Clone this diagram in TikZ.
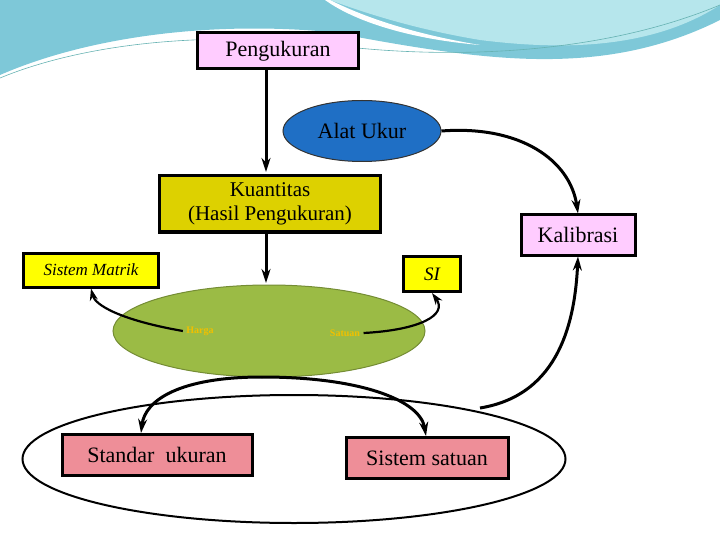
\documentclass[tikz,border=0pt]{standalone}
\usepackage{fontspec}
\setmainfont{Liberation Serif}
\usetikzlibrary{shapes.geometric,arrows.meta}
\definecolor{pinkb}{HTML}{FFCCFF}
\definecolor{yel}{HTML}{FFFF00}
\definecolor{olive}{HTML}{DDD100}
\definecolor{blueE}{HTML}{1F6FC5}
\definecolor{greenE}{HTML}{9BBB45}
\definecolor{redb}{HTML}{EE8E98}
\definecolor{harga}{HTML}{F0C000}
\definecolor{sky}{HTML}{7EC8D8}
\definecolor{skyl}{HTML}{B6E6EC}
\tikzset{
 big/.style={font=\fontsize{22}{24}\selectfont},
 box/.style={draw=black,line width=3pt,inner sep=0pt,big},
 arr/.style={line width=3pt,-{Stealth[length=14pt,width=9pt]}},
}
\begin{document}
\begin{tikzpicture}[x=1pt,y=-1pt]
\useasboundingbox (0,0) rectangle (720,540);
% background waves
\fill[sky] (0,0) -- (720,0) -- (720,20) .. controls (600,80) and (480,60) .. (330,32) .. controls (200,20) and (80,40) .. (0,75) -- cycle;
\fill[skyl] (330,0) -- (720,0) -- (720,5) .. controls (650,50) and (560,50) .. (480,40) .. controls (420,30) and (370,15) .. (330,0) -- cycle;
\fill[white] (330,0) .. controls (370,20) and (420,35) .. (480,45) .. controls (420,40) and (360,25) .. (325,0) -- cycle;
\draw[teal!60,line width=0.6pt] (0,78) .. controls (80,45) and (200,30) .. (330,45) .. controls (450,60) and (600,55) .. (720,5);
% nodes
\node[box,fill=pinkb,minimum width=161pt,minimum height=36pt] (peng) at (278,51) {Pengukuran};
\node[ellipse,draw=black!80,line width=1pt,fill=blueE,minimum width=158pt,minimum height=61pt,inner sep=0pt,big] (alat) at (362,131) {Alat Ukur};
\node[box,fill=olive,minimum width=221pt,minimum height=56pt,align=center,font=\fontsize{21}{24}\selectfont] (kuan) at (270,204) {Kuantitas\\(Hasil Pengukuran)};
\node[box,fill=pinkb,minimum width=114pt,minimum height=40pt] (kal) at (578,235) {Kalibrasi};
\node[box,fill=yel,minimum width=135pt,minimum height=34pt,font=\fontsize{17}{19}\selectfont\itshape] (sm) at (91,270) {Sistem Matrik};
\node[box,fill=yel,minimum width=57pt,minimum height=35pt,font=\fontsize{19}{21}\selectfont\itshape] (si) at (432,274) {SI};
\node[ellipse,draw=greenE!75!black,line width=1pt,fill=greenE,minimum width=312pt,minimum height=92pt,inner sep=0pt] (green) at (269,331) {};
\node[text=harga,big,font=\bfseries] (harga) at (200,331) {Harga};
\node[text=harga,big,font=\bfseries] (sat) at (345,333) {Satuan};
\node[ellipse,draw=black,line width=2pt,minimum width=543pt,minimum height=128pt,inner sep=0pt] (bigE) at (294,459) {};
\node[box,fill=redb,minimum width=190pt,minimum height=41pt] (std) at (157,455) {Standar\ \ ukuran};
\node[box,fill=redb,minimum width=162pt,minimum height=41pt] (sis) at (427,458) {Sistem satuan};
% connectors
\coordinate (gtop) at (266,283);
\coordinate (gbot) at (262,377);
\coordinate (bigr) at (480,408);
\coordinate (kt) at (266,172);
\draw[arr] (peng.south -| kt) -- (kt);
\draw[arr] (kuan.south -| gtop) -- (gtop);
\draw[arr] (alat.east) .. controls (520,125) and (570,160) .. (kal.north);
\draw[arr] (bigr) .. controls (560,395) and (575,320) .. (kal.south);
\draw[line width=2.2pt,-{Stealth[length=12pt,width=8pt]}] (harga.west) .. controls (120,320) and (95,305) .. (sm.south);
\draw[line width=2.2pt,-{Stealth[length=12pt,width=8pt]}] (sat.east) .. controls (420,330) and (448,315) .. (si.south);
\coordinate (st) at (141,433);
\coordinate (ss) at (426,436);
\draw[arr] (gbot) .. controls (180,377) and (145,400) .. (st);
\draw[arr] (gbot) .. controls (360,377) and (420,400) .. (ss);
\end{tikzpicture}
\end{document}
